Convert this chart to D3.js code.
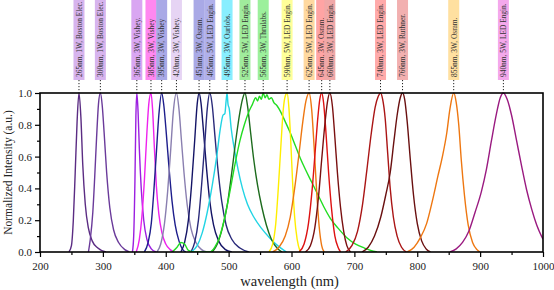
<!DOCTYPE html>
<html>
<head>
<meta charset="utf-8">
<script src="https://cdn.jsdelivr.net/npm/d3@7"></script>
<style>
  body { margin: 0; background: #fff; }
  text { font-family: "Liberation Serif", "DejaVu Serif", serif; }
</style>
</head>
<body>
<div id="plotSpectra"></div>
<script>
// Global Variables

//Width and height
var w = 554;
var h = 290;

// LED labels, one per spectrum (same order as the series below)
var ledLabels = [
	"265nm, 1W, Boston Elec.",
	"300nm, 1W, Boston Elec.",
	"365nm, 3W, Vishey.",
	"385nm, 3W, Vishey",
	"395nm, 3W, Vishey",
	"420nm, 3W, Vishey.",
	"451nm, 3W, Osram.",
	"465nm, 5W, LED Engin.",
	"495nm, 3W, Ourlobs.",
	"525nm, 5W, LED Engin.",
	"565nm, 3W, Thrulabs.",
	"590nm, 5W, LED Engin.",
	"625nm, 5W, LED Engin.",
	"645nm, 3W, Osram.",
	"660nm, 3W, LED Engin.",
	"740nm, 3W, LED Engin.",
	"766nm, 3W, Ruthner.",
	"855nm, 3W, Osram.",
	"940nm, 5W, LED Engin."
];

var lineColors = ["#5b2c83", "#6a3a9a", "#9b1fe0", "#ee22ee", "#1e1e8c", "#8a7fb0", "#141466",
	"#2a2a7a", "#22d4e4", "#1d6b1d", "#22dd22", "#ffee00", "#ee7711", "#dd1111", "#7a1010",
	"#aa1515", "#6a1010", "#ee7711", "#9a1a80"];

var boxColors = ["#d7b4ee", "#d7b4ee", "#d9a6f2", "#ff88f0", "#a9a9e6", "#e6d4f4", "#a9a9e6",
	"#b0b0ea", "#88eeff", "#a0ec9c", "#9cf09c", "#ffff99", "#ffd9a0", "#ffa4a4", "#f0a8a8",
	"#ffaaaa", "#f2b0b0", "#ffe0a0", "#f4a8ec"];

// Spectra: [wavelength nm, normalized intensity]
var s265 = [[246,0],[250,0.04],[253,0.2],[256,0.5],[259,0.82],[262,1],[265,0.85],[268,0.55],[272,0.3],[277,0.15],[283,0.07],[292,0.025],[305,0]];
var s300 = [[277,0],[280,0.08],[284,0.25],[287,0.47],[290,0.72],[293,0.93],[296,1],[299,0.92],[302,0.75],[306,0.5],[311,0.28],[317,0.14],[325,0.06],[335,0.015],[342,0]];
var s365 = [[347,0],[349,0.1],[351,0.45],[352.5,0.85],[354,1],[356,0.88],[358,0.65],[361,0.4],[365,0.2],[370,0.08],[377,0.02],[385,0]];
var s385 = [[353,0],[358,0.08],[362,0.22],[366,0.45],[370,0.75],[373,0.93],[376.5,1],[379,0.9],[382,0.65],[385,0.42],[389,0.24],[394,0.12],[400,0.05],[407,0.015],[413,0]];
var s395 = [[366,0],[372,0.06],[377,0.18],[381,0.38],[385,0.62],[389,0.86],[393.5,1],[397,0.92],[401,0.74],[405,0.54],[410,0.32],[415,0.17],[421,0.07],[428,0.01],[432,0]];
var s420 = [[386,0],[392,0.05],[398,0.18],[403,0.38],[408,0.65],[412,0.88],[417,1],[421,0.9],[425,0.7],[429,0.5],[434,0.3],[440,0.15],[448,0.06],[457,0.015],[465,0]];
var s451 = [[424,0],[430,0.06],[436,0.2],[441,0.42],[446,0.7],[450,0.93],[453,1],[456,0.94],[460,0.76],[465,0.52],[470,0.32],[476,0.17],[484,0.07],[495,0.015],[505,0]];
var s465 = [[440,0],[446,0.06],[452,0.2],[457,0.42],[462,0.68],[466,0.9],[470,1],[474,0.92],[478,0.74],[483,0.52],[489,0.32],[496,0.17],[505,0.08],[518,0.025],[532,0]];
var s495 = [[440,0],[450,0.04],[458,0.12],[466,0.25],[474,0.42],[481,0.6],[487,0.78],[491,0.86],[494,0.87],[496,0.95],[497.5,1],[499,0.93],[501,0.9],[504,0.78],[509,0.65],[515,0.52],[522,0.4],[530,0.3],[540,0.22],[552,0.15],[565,0.09],[578,0.04],[592,0]];
var s525 = [[474,0],[482,0.05],[490,0.15],[498,0.3],[505,0.5],[512,0.72],[518,0.88],[522,0.96],[526,1],[530,0.92],[535,0.75],[540,0.58],[546,0.42],[553,0.28],[560,0.17],[568,0.08],[578,0.02],[585,0]];
var s565 = [[410,0],[418,0.03],[424,0.06],[430,0.05],[436,0.01],[445,0],[470,0],[478,0.03],[486,0.1],[494,0.22],[502,0.38],[510,0.55],[518,0.7],[525,0.8],[532,0.88],[538,0.93],[543,0.97],[546,0.95],[549,0.98],[552,0.96],[555,1],[558,0.97],[561,0.99],[564,0.96],[568,0.97],[572,0.94],[577,0.92],[583,0.88],[590,0.82],[598,0.75],[606,0.67],[614,0.59],[622,0.52],[632,0.44],[642,0.36],[652,0.28],[662,0.21],[674,0.15],[688,0.09],[702,0.05],[716,0.025],[730,0.005],[736,0]];
var s590 = [[564,0],[570,0.05],[575,0.18],[579,0.4],[583,0.66],[587,0.9],[590,0.98],[593,1],[596,0.9],[599,0.68],[602,0.42],[605,0.22],[609,0.08],[614,0]];
var s625 = [[570,0],[580,0.03],[590,0.1],[598,0.22],[605,0.4],[612,0.62],[618,0.82],[623,0.95],[628,1],[632,0.9],[636,0.66],[640,0.38],[644,0.16],[648,0.04],[652,0]];
var s645 = [[612,0],[620,0.05],[627,0.18],[633,0.4],[638,0.65],[642,0.85],[645,0.96],[648,1],[651,0.94],[655,0.74],[659,0.5],[664,0.26],[669,0.1],[674,0.03],[678,0]];
var s660 = [[622,0],[630,0.04],[637,0.15],[643,0.35],[648,0.58],[653,0.8],[657,0.94],[661,1],[665,0.92],[669,0.72],[673,0.5],[678,0.28],[683,0.13],[688,0.04],[694,0]];
var s740 = [[686,0],[696,0.04],[705,0.13],[713,0.3],[720,0.52],[727,0.75],[733,0.91],[738,0.98],[741.6,1],[745,0.96],[749,0.84],[753,0.62],[757,0.4],[762,0.22],[768,0.1],[775,0.03],[783,0]];
var s766 = [[712,0],[722,0.03],[732,0.1],[742,0.22],[750,0.36],[757,0.5],[763,0.7],[768,0.86],[773,0.97],[776.6,1],[780,0.96],[784,0.82],[789,0.58],[794,0.36],[800,0.18],[807,0.07],[814,0.02],[821,0]];
var s855 = [[784,0],[795,0.03],[805,0.09],[815,0.18],[824,0.32],[833,0.48],[840,0.6],[847,0.75],[852,0.9],[858,1],[862,0.94],[866,0.8],[870,0.58],[875,0.36],[881,0.17],[888,0.06],[895,0.015],[900,0]];
var s940 = [[852,0],[862,0.02],[872,0.06],[882,0.13],[892,0.25],[902,0.38],[910,0.52],[918,0.7],[926,0.87],[932,0.97],[937,1],[943,0.96],[950,0.86],[958,0.7],[966,0.54],[974,0.39],[982,0.27],[990,0.17],[1000,0.08]];

var spectra = [s265, s300, s365, s385, s395, s420, s451, s465, s495, s525, s565,
	s590, s625, s645, s660, s740, s766, s855, s940];

var xTicks = [200, 300, 400, 500, 600, 700, 800, 900, 1000];
var yTicks = [0.0, 0.2, 0.4, 0.6, 0.8, 1.0];

// Plot box (plotTop, not top: window.top is read-only)
var plotLeft = 40, plotRight = 543, plotTop = 93, plotBottom = 252;

var x = d3.scaleLinear().domain([200, 1000]).range([plotLeft, plotRight]);
var y = d3.scaleLinear().domain([0, 1]).range([plotBottom, plotTop]);

//Create SVG element
var svg = d3.select("#plotSpectra")
			.append("svg")
			.attr("width", w)
			.attr("height", h);

svg.append("clipPath")
	.attr("id", "plotClip")
	.append("rect")
	.attr("x", plotLeft)
	.attr("y", plotTop - 2)
	.attr("width", plotRight - plotLeft)
	.attr("height", plotBottom - plotTop + 2);

// Spectra as lines
var line = d3.line()
	.x(function(d) { return x(d[0]); })
	.y(function(d) { return y(d[1]); })
	.curve(d3.curveMonotoneX);

svg.append("g")
	.attr("clip-path", "url(#plotClip)")
	.selectAll("path")
	.data(spectra)
	.enter()
	.append("path")
	.attr("d", line)
	.style("fill", "none")
	.style("stroke", function(d, i) { return lineColors[i]; })
	.style("stroke-width", 1.4);

// Axes: major ticks with labels, minor ticks between
var xAxis = svg.append("g")
	.attr("transform", "translate(0," + plotBottom + ")")
	.call(d3.axisBottom(x).tickValues(xTicks).tickSize(5).tickFormat(d3.format("d")));
svg.append("g")
	.attr("transform", "translate(0," + plotBottom + ")")
	.call(d3.axisBottom(x).tickValues(d3.range(250, 1000, 100)).tickSize(3).tickFormat(""));

var yAxis = svg.append("g")
	.attr("transform", "translate(" + plotLeft + ",0)")
	.call(d3.axisLeft(y).tickValues(yTicks).tickSize(5).tickFormat(d3.format(".1f")));
svg.append("g")
	.attr("transform", "translate(" + plotLeft + ",0)")
	.call(d3.axisLeft(y).tickValues([0.1, 0.3, 0.5, 0.7, 0.9]).tickSize(3).tickFormat(""));

svg.selectAll(".domain").remove();
svg.selectAll(".tick line").style("stroke", "#000").style("stroke-width", 1.2);
svg.selectAll(".tick text")
	.style("font-family", "Liberation Serif")
	.style("font-size", "11px")
	.style("fill", "#222");
xAxis.selectAll(".tick text").attr("dy", "0.95em");

// Frame around the plot
svg.append("rect")
	.attr("x", plotLeft)
	.attr("y", plotTop)
	.attr("width", plotRight - plotLeft)
	.attr("height", plotBottom - plotTop)
	.style("fill", "none")
	.style("stroke", "#000")
	.style("stroke-width", 1.6);

// Axis titles
svg.append("text")
	.attr("x", x(597))
	.attr("y", 286)
	.attr("text-anchor", "middle")
	.style("font-size", "14.5px")
	.style("fill", "#222")
	.text("wavelength (nm)");

svg.append("text")
	.attr("transform", "translate(12," + ((plotTop + plotBottom) / 2) + ") rotate(-90)")
	.attr("text-anchor", "middle")
	.style("font-size", "11.5px")
	.style("fill", "#222")
	.text("Normalized Intensity (a.u.)");

// LED labels at the peak of each spectrum
function peakOf(s) {
	return s.reduce(function(a, b) { return b[1] > a[1] ? b : a; })[0];
}

var boxBottom = 80;
var labels = svg.selectAll("g.led")
	.data(ledLabels)
	.enter()
	.append("g")
	.attr("class", "led")
	.attr("transform", function(d, i) { return "translate(" + x(peakOf(spectra[i])) + ",0)"; });

labels.append("line")
	.attr("y1", boxBottom)
	.attr("y2", plotTop)
	.style("stroke", "#222")
	.style("stroke-width", 1)
	.style("stroke-dasharray", "1.2,1.8");

labels.append("rect")
	.attr("x", -5.5)
	.attr("y", 0)
	.attr("width", 11)
	.attr("height", boxBottom)
	.style("fill", function(d, i) { return boxColors[i]; });

labels.append("text")
	.attr("transform", "translate(2.8," + (boxBottom - 3) + ") rotate(-90)")
	.style("font-size", "7.4px")
	.style("fill", "#333")
	.text(function(d) { return d; });
</script>
</body>
</html>
